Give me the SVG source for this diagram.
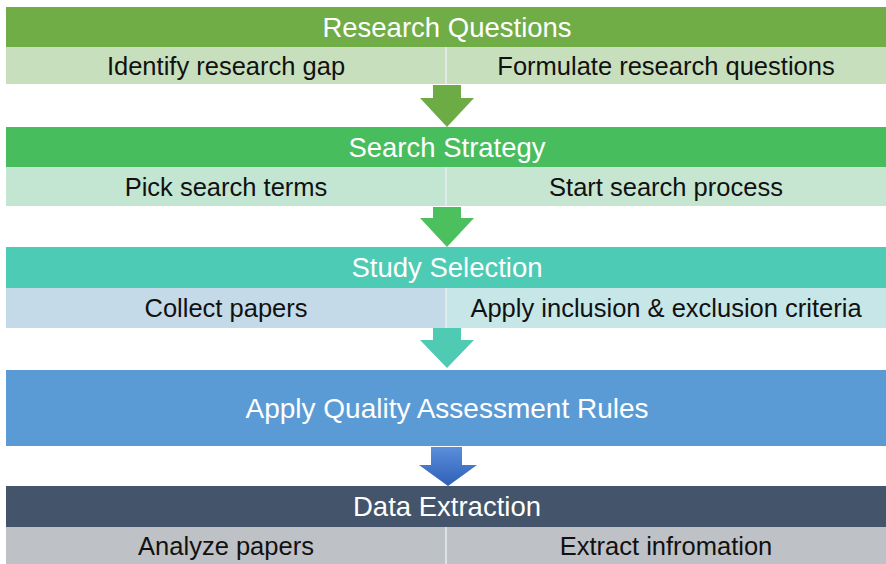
<svg xmlns="http://www.w3.org/2000/svg" width="886" height="564" viewBox="0 0 886 564">
<defs>
<linearGradient id="blueArrow" x1="0" y1="0" x2="0" y2="1">
<stop offset="0" stop-color="#5A8FDB"/>
<stop offset="1" stop-color="#2F5FB8"/>
</linearGradient>
<style>
text{font-family:"Liberation Sans",Arial,sans-serif;text-anchor:middle;dominant-baseline:central}
.h{fill:#ffffff;font-size:27.5px}
.s{fill:#111111;font-size:25.5px}
.div{stroke:#E6EEF0;stroke-width:1.5}
</style>
</defs>
<rect width="886" height="564" fill="#ffffff"/>
<g id="connectors">
<path d="M433,85 H461 V98 H474 L447,127 L420,98 H433 Z" fill="#6DAB45"/>
<path d="M433,207 H461 V218 H474 L447,247 L420,218 H433 Z" fill="#4CBF5F"/>
<path d="M433,328 H461 V340 H474 L447,368 L420,340 H433 Z" fill="#4ECBB2"/>
<path d="M431,447 H462 V465 H477 L448,486 L419,465 H431 Z" fill="url(#blueArrow)"/>
</g>
<g id="research-questions">
<rect x="6" y="7" width="880" height="40" fill="#70AD47"/>
<text class="h" x="447" y="27">Research Questions</text>
</g>
<g id="identify-research-gap">
<rect x="6" y="47" width="440" height="37" fill="#C8DFBD"/>
<text class="s" x="226" y="65.5">Identify research gap</text>
</g>
<g id="formulate-research-questions">
<rect x="446" y="47" width="440" height="37" fill="#C8DFBD"/>
<line class="div" x1="446" y1="47" x2="446" y2="84"/>
<text class="s" x="666" y="65.5">Formulate research questions</text>
</g>
<g id="search-strategy">
<rect x="6" y="127" width="880" height="40" fill="#47BD5E"/>
<text class="h" x="447" y="147">Search Strategy</text>
</g>
<g id="pick-search-terms">
<rect x="6" y="167" width="440" height="39" fill="#C3E6D3"/>
<text class="s" x="226" y="186.5">Pick search terms</text>
</g>
<g id="start-search-process">
<rect x="446" y="167" width="440" height="39" fill="#C6E6D2"/>
<line class="div" x1="446" y1="167" x2="446" y2="206"/>
<text class="s" x="666" y="186.5">Start search process</text>
</g>
<g id="study-selection">
<rect x="6" y="247" width="880" height="41" fill="#4ECBB4"/>
<text class="h" x="447" y="267.5">Study Selection</text>
</g>
<g id="collect-papers">
<rect x="6" y="288" width="440" height="40" fill="#C4DAE8"/>
<text class="s" x="226" y="308">Collect papers</text>
</g>
<g id="apply-criteria">
<rect x="446" y="288" width="440" height="40" fill="#C7E6E8"/>
<line class="div" x1="446" y1="288" x2="446" y2="328"/>
<text class="s" x="666" y="308">Apply inclusion &amp; exclusion criteria</text>
</g>
<g id="quality-assessment">
<rect x="6" y="370" width="880" height="76" fill="#5B9BD5"/>
<text class="h" x="447" y="408" style="font-size:28px">Apply Quality Assessment Rules</text>
</g>
<g id="data-extraction">
<rect x="6" y="486" width="880" height="41" fill="#44546A"/>
<text class="h" x="447" y="506.5">Data Extraction</text>
</g>
<g id="analyze-papers">
<rect x="6" y="527" width="440" height="37" fill="#BEC1C5"/>
<text class="s" x="226" y="545.5">Analyze papers</text>
</g>
<g id="extract-information">
<rect x="446" y="527" width="440" height="37" fill="#BEC1C5"/>
<line class="div" x1="446" y1="527" x2="446" y2="564"/>
<text class="s" x="666" y="545.5">Extract infromation</text>
</g>
</svg>
